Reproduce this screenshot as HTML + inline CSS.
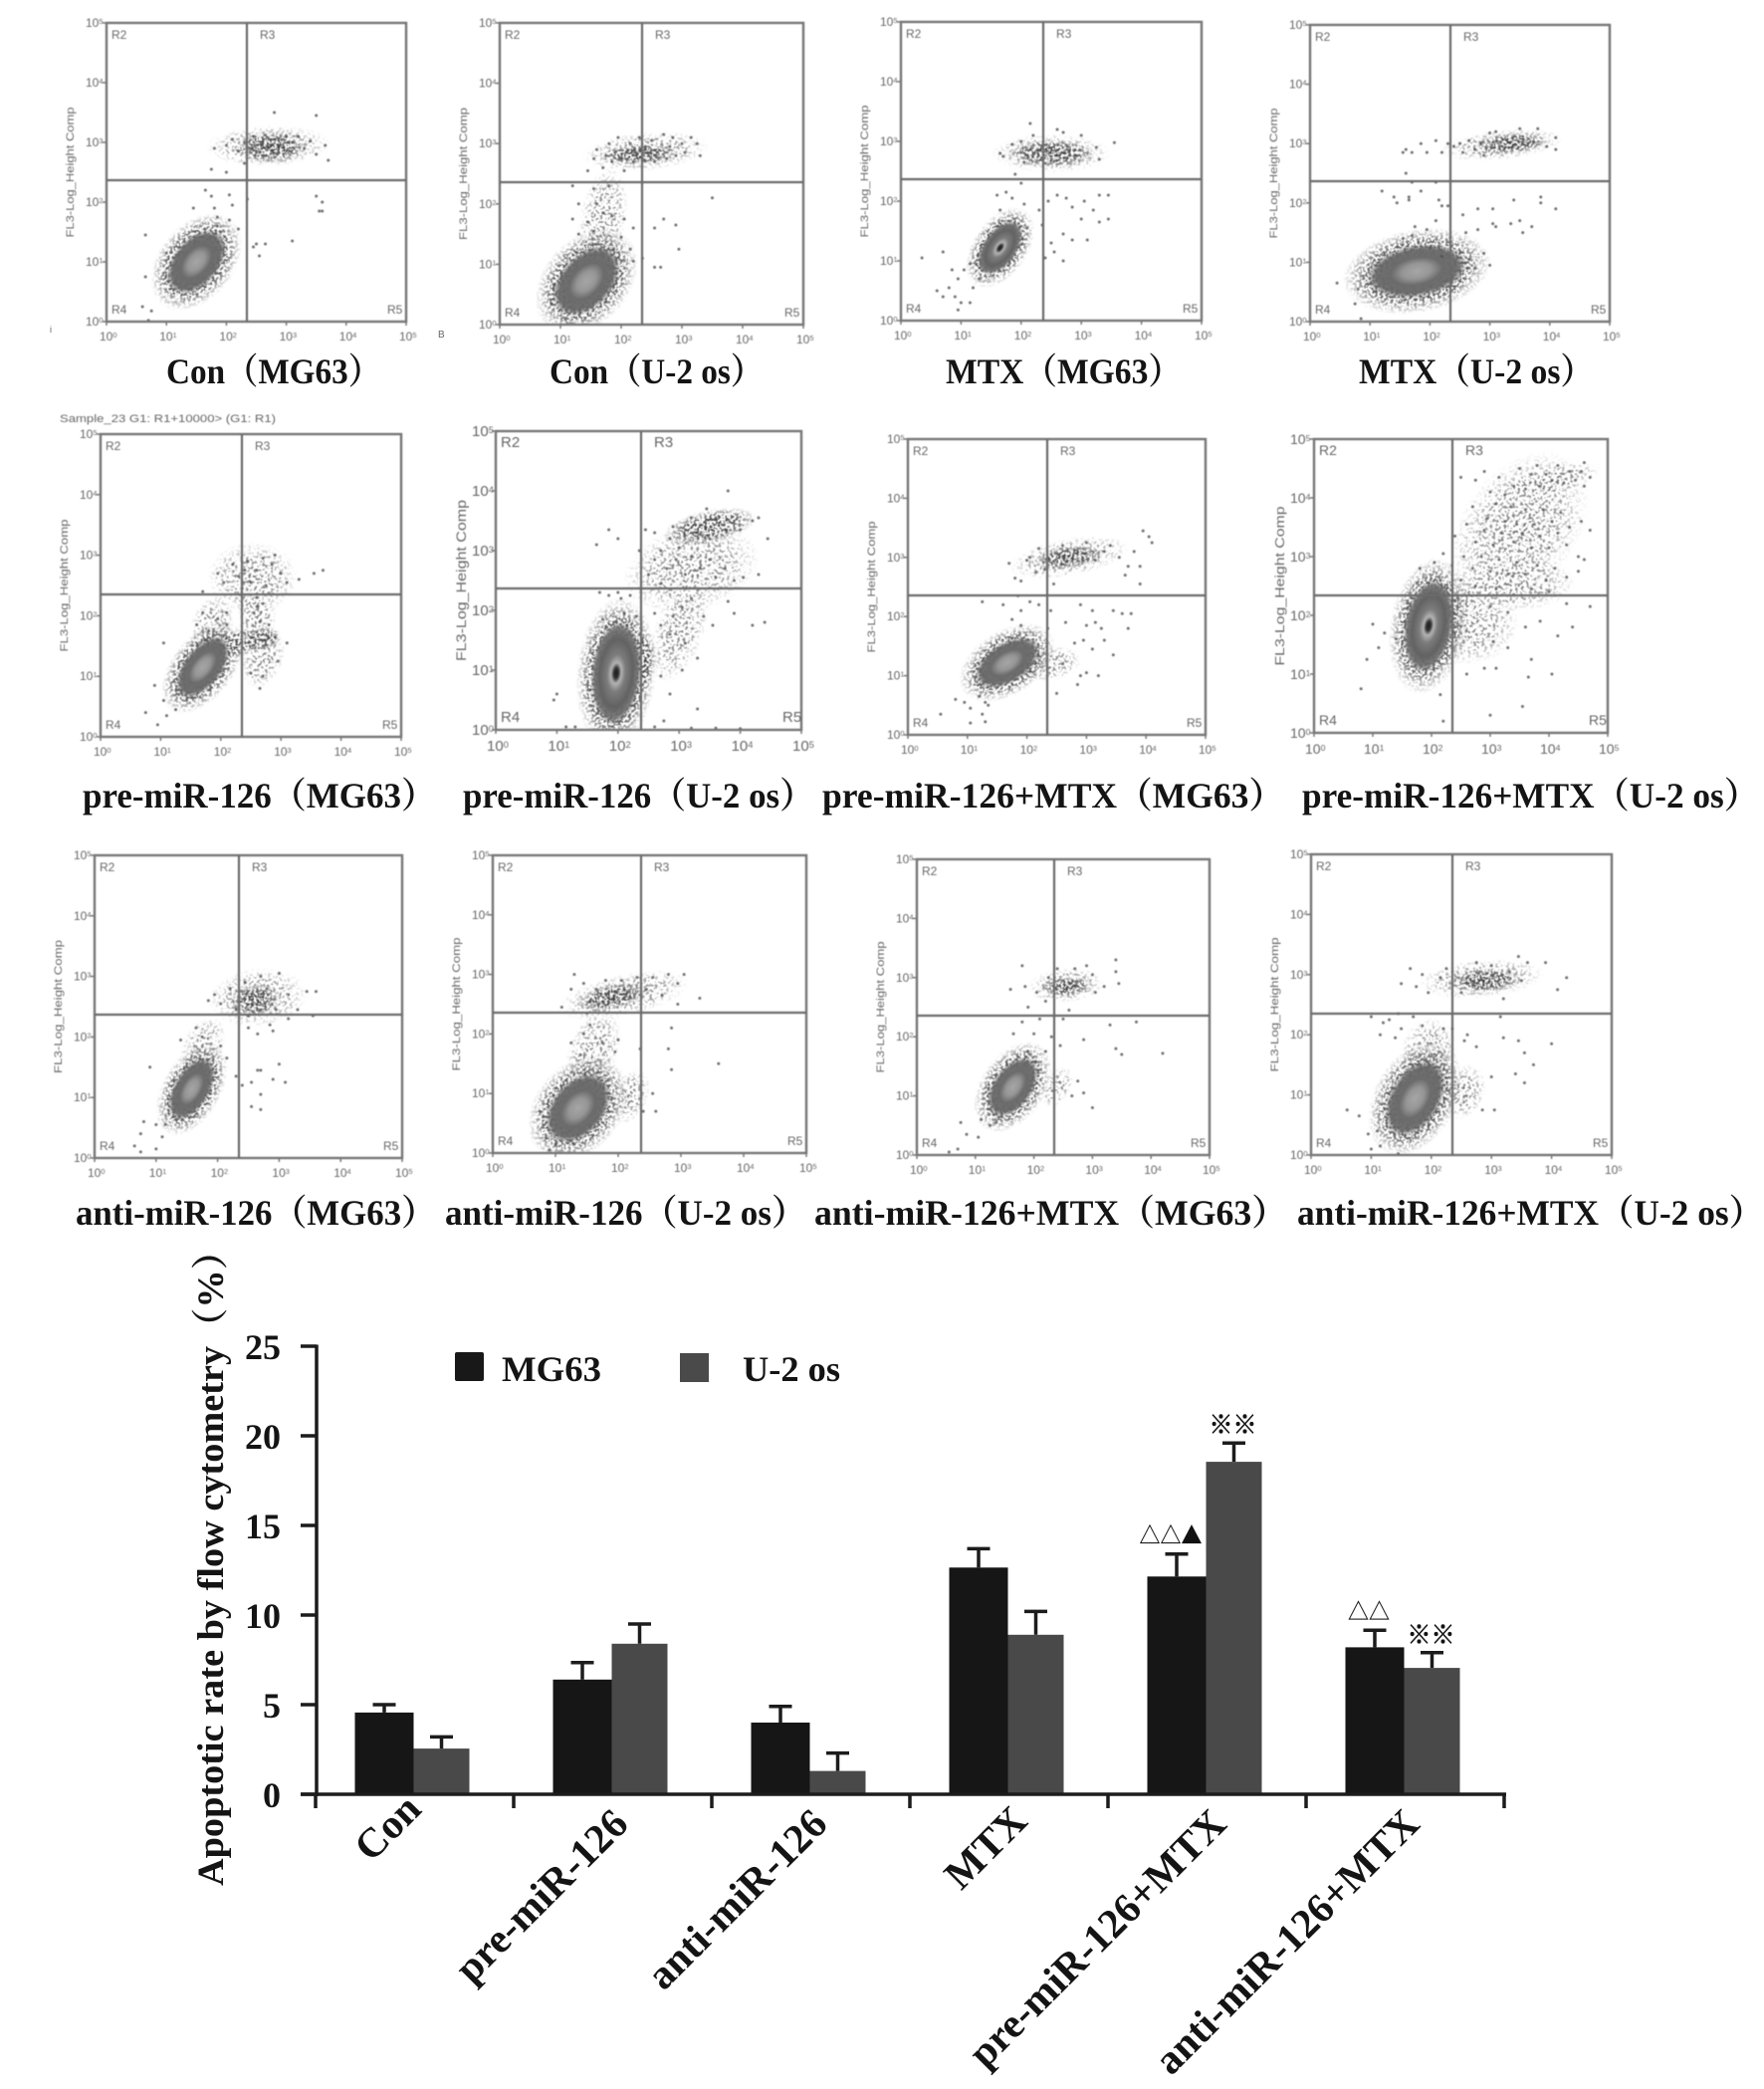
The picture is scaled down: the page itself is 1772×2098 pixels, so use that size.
<!DOCTYPE html>
<html lang="en">
<head>
<meta charset="utf-8">
<title>Apoptosis flow cytometry panels and bar chart</title>
<style>
html,body{margin:0;padding:0;background:#fff}
#figure{display:block;width:1772px;height:2098px;background:#fff}
.serif{font-family:"Liberation Serif","Noto Serif CJK SC",serif;font-weight:bold;fill:#141414}
.fc{font-family:"Liberation Sans",sans-serif;fill:#666}
</style>
</head>
<body>
<svg id="figure" xmlns="http://www.w3.org/2000/svg" width="1772" height="2098" viewBox="0 0 1772 2098">
  <defs id="defs">
    <filter id="soft" x="-5%" y="-5%" width="110%" height="110%"><feGaussianBlur stdDeviation="0.55"/></filter>
    <filter id="softer" x="-5%" y="-5%" width="110%" height="110%"><feGaussianBlur stdDeviation="0.35"/></filter>
    <filter id="speckle" x="-10%" y="-10%" width="120%" height="120%" color-interpolation-filters="sRGB">
      <feTurbulence type="fractalNoise" baseFrequency="0.38" numOctaves="2" seed="7" result="noise"/>
      <feColorMatrix in="noise" type="matrix" values="0 0 0 0 0  0 0 0 0 0  0 0 0 0 0  0 0 0 9 -4.25" result="mask"/>
      <feComposite in="SourceGraphic" in2="mask" operator="in"/>
    </filter>
    <filter id="speckle-sparse" x="-10%" y="-10%" width="120%" height="120%" color-interpolation-filters="sRGB">
      <feTurbulence type="fractalNoise" baseFrequency="0.36" numOctaves="2" seed="19" result="noise"/>
      <feColorMatrix in="noise" type="matrix" values="0 0 0 0 0  0 0 0 0 0  0 0 0 0 0  0 0 0 10 -5.35" result="mask"/>
      <feComposite in="SourceGraphic" in2="mask" operator="in"/>
    </filter>
    <radialGradient id="grad-light">
      <stop offset="0" stop-color="#a6a6a6"/><stop offset="0.28" stop-color="#969696"/>
      <stop offset="0.5" stop-color="#6c6c6c"/><stop offset="0.8" stop-color="#666" stop-opacity="0.92"/>
      <stop offset="1" stop-color="#777" stop-opacity="0"/>
    </radialGradient>
    <radialGradient id="grad-dark">
      <stop offset="0" stop-color="#1e1e1e"/><stop offset="0.1" stop-color="#333"/>
      <stop offset="0.2" stop-color="#b4b4b4"/><stop offset="0.36" stop-color="#7c7c7c"/>
      <stop offset="0.65" stop-color="#626262"/><stop offset="0.85" stop-color="#6e6e6e" stop-opacity="0.9"/>
      <stop offset="1" stop-color="#777" stop-opacity="0"/>
    </radialGradient>
    <radialGradient id="grad-halo">
      <stop offset="0" stop-color="#505050"/><stop offset="0.68" stop-color="#5c5c5c"/>
      <stop offset="1" stop-color="#808080" stop-opacity="0"/>
    </radialGradient>
    <radialGradient id="grad-haze">
      <stop offset="0" stop-color="#666" stop-opacity="0.95"/><stop offset="0.6" stop-color="#7a7a7a" stop-opacity="0.7"/>
      <stop offset="1" stop-color="#999" stop-opacity="0"/>
    </radialGradient>
    <radialGradient id="grad-dense">
      <stop offset="0" stop-color="#3c3c3c"/><stop offset="0.6" stop-color="#4e4e4e" stop-opacity="0.92"/>
      <stop offset="1" stop-color="#777" stop-opacity="0"/>
    </radialGradient>
  </defs>
  <g id="panels"></g>
  <g id="captions"></g>
  <g id="chart"></g>
  <text class="fc" x="60" y="424" font-size="11" textLength="217" lengthAdjust="spacingAndGlyphs" filter="url(#soft)">Sample_23 G1: R1+10000&gt; (G1: R1)</text>
  <text class="fc" x="50" y="334" font-size="9">i</text>
  <text class="fc" x="440" y="339" font-size="10">B</text>
</svg>
<script>
/* ---------- bar chart data ---------- */
const categories = ["Con","pre-miR-126","anti-miR-126","MTX","pre-miR-126+MTX","anti-miR-126+MTX"];
const mg63Values = [4.56,6.4,4.0,12.65,12.15,8.2];
const u2osValues = [2.55,8.4,1.3,8.9,18.55,7.05];
const mg63ErrorTops = [5.0,7.35,4.9,13.7,13.4,9.15];
const u2osErrorTops = [3.2,9.5,2.3,10.2,19.6,7.9];
const yTicks = [0,5,10,15,20,25];
const seriesNames = ["MG63","U-2 os"];
const significanceMarks = [
  {group:4, series:0, label:"△△▲"},
  {group:4, series:1, label:"※※"},
  {group:5, series:0, label:"△△"},
  {group:5, series:1, label:"※※"}
];

/* ---------- flow cytometry data: log10 coordinates ---------- */
/* cluster = [log x, log y, major radius, minor radius, screen angle, kind] */
const clustersConMG63 = [[1.5,1.0,0.88,0.55,-50,"light"],[2.7,2.94,1.0,0.3,-2,"haze"],[2.75,2.92,0.55,0.2,0,"dense"]];
const dotsConMG63 = [[1.8,2.9],[1.75,2.55],[2,2.95],[2.1,3.05],[2.2,2.85],[2.3,3],[2.4,2.9],[2.45,3.1],[2.5,2.85],[2.6,3],[2.65,3.12],[2.7,2.9],[2.8,3.05],[2.85,2.8],[2.9,2.95],[3,3.1],[3.05,2.85],[3.1,3],[3.2,3.1],[3.3,2.9],[3.4,3.02],[3.5,2.8],[3.65,2.95],[3.7,2.7],[2,2.5],[2.3,2.65],[1.65,2.2],[1.75,2.1],[1.8,1.9],[2.1,1.95],[2.05,2.12],[2.35,2.05],[1.45,1.9],[1.85,1.75],[2.5,1.3],[2.55,1.1],[2.45,1.25],[2.65,1.3],[3.1,1.35],[3.5,2.1],[3.6,2],[3.55,1.85],[3.6,1.85],[3.5,3.45],[2.8,3.5],[0.65,1.45],[0.65,0.75],[1,1.15],[0.6,0.25],[0.75,0.18],[0.7,0.02],[2.2,1.55],[2.05,1.7],[1.85,1.6]];
const clustersConU2 = [[1.43,0.72,0.95,0.62,-48,"light"],[1.7,1.75,0.85,0.34,-80,"haze"],[2.4,2.87,1.0,0.28,-5,"haze"],[2.3,2.82,0.6,0.12,-3,"dense"]];
const dotsConU2 = [[1.45,2.55],[1.55,2.75],[1.6,2.9],[1.7,2.6],[1.75,2.8],[1.8,3],[1.85,2.7],[1.9,2.85],[1.95,3.1],[2,2.75],[2.05,2.55],[2.1,2.85],[2.15,3],[2.2,2.7],[2.25,2.85],[2.3,3.1],[2.35,2.75],[2.4,2.95],[2.45,2.8],[2.5,3.05],[2.55,2.7],[2.6,2.85],[2.7,3.15],[2.75,2.75],[2.8,2.95],[2.85,3.1],[2.9,2.8],[3,3],[3.05,2.85],[3.15,3.1],[3.25,3],[3.3,2.8],[1.2,2.3],[1.55,2.25],[1.8,2.3],[1.3,2],[1.45,1.7],[1.6,2],[1.7,1.85],[1.85,1.8],[2.05,1.75],[2.2,1.6],[1.2,1.75],[1.3,1.5],[1.55,1.55],[2,1.45],[2.15,1.25],[2.2,1.05],[2.35,1.1],[2.7,1.75],[2.55,1.6],[2.9,1.65],[2.95,1.25],[3.5,2.1],[2.65,0.95],[2.55,0.95],[0.9,0.65],[0.85,0.35],[1.1,0.1]];
const clustersMtxMG63 = [[1.65,1.22,0.72,0.4,-55,"dark"],[2.5,2.8,0.95,0.28,0,"haze"],[2.5,2.8,0.68,0.17,0,"dense"]];
const dotsMtxMG63 = [[1.65,2.8],[1.7,2.75],[1.85,2.95],[2.0,3.0],[2.05,2.65],[2.2,3.1],[2.6,3.2],[2.7,3.15],[3.0,3.1],[3.25,2.9],[3.3,2.7],[3.55,2.98],[2.15,3.3],[1.9,2.45],[2.0,2.3],[1.75,2.15],[1.6,2.1],[1.85,2.05],[2.05,1.95],[1.65,1.85],[2.3,1.85],[2.45,2.0],[2.6,2.1],[2.75,2.05],[2.85,1.9],[3,1.7],[3.05,2],[3.2,1.85],[3.3,2.1],[3.45,2.1],[3.45,1.7],[3.3,1.65],[2.5,1.3],[2.7,1.45],[2.85,1.35],[2.4,1.05],[2.55,1.15],[3.1,1.35],[2.7,1.0],[2.35,1.6],[2.1,1.55],[0.35,1.05],[0.7,1.15],[0.85,0.85],[0.95,0.7],[1.05,0.85],[1.15,0.95],[1.25,0.95],[0.7,0.4],[0.8,0.55],[0.9,0.4],[1,0.3],[1.15,0.3],[1.2,0.55],[0.95,0.18],[1.3,0.7],[0.6,0.5]];
const clustersMtxU2 = [[1.78,0.85,1.2,0.62,-10,"light"],[3.2,2.98,0.98,0.22,-6,"haze"],[3.35,3.0,0.6,0.13,-5,"dense"]];
const dotsMtxU2 = [[1.55,2.85],[1.6,2.9],[1.7,2.85],[1.85,3],[1.95,2.85],[2.1,3.05],[2.2,2.85],[2.3,3],[2.4,2.95],[2.5,3],[2.55,2.85],[2.65,3.05],[2.75,2.9],[2.85,3],[2.9,2.8],[3,3.18],[3.1,3.2],[3.5,3.25],[3.95,2.95],[4.1,2.9],[4.1,3.1],[3.8,3.25],[1.6,2.5],[1.7,2.35],[1.65,2.1],[1.65,2.05],[1.4,2.1],[1.45,2],[1.2,2.2],[1.85,2.2],[2.1,2.35],[2.15,2.05],[2.2,1.95],[2.3,1.95],[2.1,1.7],[1.75,1.6],[1.55,1.4],[1.95,1.55],[1.7,1.45],[2,1.25],[2.2,1.1],[2.6,1.5],[2.8,1.55],[2.55,1.8],[2.8,1.9],[3.05,1.9],[3.05,1.65],[3.1,1.6],[3.4,2.05],[3.35,1.65],[3.5,1.7],[3.55,1.5],[3.7,1.6],[4.1,1.9],[3.85,2.1],[3.85,2.0],[2.65,1.05],[2.9,1.15],[3,0.95],[2.75,0.9],[0.45,0.65],[0.8,0.55],[0.85,0.05],[0.75,0.3]];
const clustersPreMG63 = [[1.7,1.15,0.85,0.45,-52,"light"],[2.7,1.62,0.28,0.14,-12,"dense"],[2.3,1.55,0.45,0.16,-15,"dense"],[2.53,2.63,0.72,0.52,0,"haze"],[2.6,2.0,0.55,0.28,90,"haze"],[1.85,1.85,0.5,0.3,-70,"haze"],[2.7,1.3,0.5,0.3,-70,"haze"]];
const dotsPreMG63 = [[1.7,2.4],[1.95,2.7],[2.05,2.55],[2.2,2.85],[2.3,2.65],[2.35,2.45],[2.4,2.75],[2.45,2.9],[2.5,2.55],[2.6,2.75],[2.7,2.95],[2.75,2.5],[2.85,2.85],[2.9,3.0],[3.0,2.7],[3.1,2.55],[3.3,2.6],[3.7,2.75],[3.55,2.7],[2.6,2.3],[2.7,2.2],[2.55,2.05],[2.65,1.9],[2.8,1.85],[2.6,2.15],[1.7,2.05],[1.6,1.85],[1.8,1.75],[1.95,1.95],[2.1,1.85],[1.75,1.6],[2.1,2.05],[2.9,1.65],[2.95,1.25],[2.7,1.0],[2.65,0.8],[2.5,1.05],[3.1,1.55],[1.05,1.55],[0.9,0.85],[1.05,0.6],[0.75,0.4],[1.1,0.35],[1.25,0.45],[1.3,0.7],[0.95,0.2]];
const clustersPreU2 = [[1.97,0.95,1.2,0.58,-85,"dark"],[2.35,1.15,0.5,0.2,-85,"dense"],[3.5,3.4,0.72,0.2,-12,"dense"],[3.2,2.7,1.1,0.62,-15,"haze"],[3.0,1.65,0.85,0.36,-70,"haze"]];
const dotsPreU2 = [[1.65,3.1],[1.85,3.35],[2.0,3.2],[2.45,3.35],[2.35,3.0],[2.6,3.3],[2.7,3.0],[2.85,3.2],[2.9,3.4],[3.0,3.05],[3.1,3.35],[3.2,3.55],[3.3,3.3],[3.45,3.7],[3.5,3.2],[3.6,3.55],[3.75,3.35],[3.9,3.45],[4.0,3.35],[4.2,3.5],[4.3,3.55],[4.45,3.2],[3.8,4.0],[2.5,2.6],[2.6,2.85],[2.7,2.45],[2.8,2.7],[2.95,2.85],[3.1,2.6],[3.2,2.9],[3.35,2.7],[3.5,2.85],[3.6,2.55],[3.75,2.7],[3.9,2.5],[4.05,2.55],[4.3,2.6],[1.7,2.3],[1.85,2.25],[2,2.3],[2.05,2.2],[2.2,2.25],[2.1,1.95],[2.15,1.75],[2.3,1.9],[1.75,1.85],[2.6,1.95],[2.7,1.75],[2.85,1.6],[2.9,1.9],[3.05,2.05],[3.2,2.2],[3.4,1.9],[3.55,1.75],[3.8,2.15],[3.9,1.95],[4.4,1.8],[4.2,1.75],[3.1,1.45],[3.3,1.2],[3.05,1.0],[2.7,0.9],[2.85,0.6],[3.3,0.35],[2.75,0.15],[0.95,0.5],[1,0.6],[1.15,0.05],[1.3,0.05],[2.6,0.05],[3.2,0.03],[3.6,0.03],[4,0.02]];
const clustersPreMtxMG63 = [[1.67,1.22,0.85,0.48,-32,"light"],[2.7,3.0,0.98,0.28,-10,"haze"],[2.7,3.0,0.55,0.14,-8,"dense"],[2.4,1.2,0.5,0.25,-10,"haze"]];
const dotsPreMtxMG63 = [[1.7,2.9],[1.8,2.65],[1.9,2.6],[2,2.95],[2.05,3],[2.15,2.75],[2.2,3.15],[2.3,2.8],[2.45,2.55],[2.6,3.2],[3,3.25],[3.15,2.95],[3.3,3.1],[3.4,3.2],[3.55,3],[3.65,2.7],[3.7,2.85],[3.8,3.1],[3.9,2.85],[3.95,3.45],[4.1,3.25],[4.05,3.35],[3.9,2.55],[1.85,2.35],[1.25,2.25],[1.6,2.2],[1.9,2.1],[2.05,2.25],[2.2,2.2],[1.75,1.95],[1.9,1.85],[2.4,2.1],[2.35,1.8],[2.65,1.9],[2.9,2.2],[3.1,2.1],[3.15,1.9],[3,1.85],[3.25,1.8],[3.45,2.1],[3.6,2.05],[3.7,1.8],[3.75,2.05],[2.8,1.55],[2.95,1.6],[3.1,1.45],[3.3,1.6],[3.45,1.35],[2.6,1.2],[2.9,1.0],[3.0,1.05],[3.2,1],[2.85,0.85],[2.5,0.7],[0.8,0.6],[0.95,0.55],[1.05,0.45],[1.2,0.65],[1.3,0.55],[1.25,0.35],[0.55,0.35],[1.05,0.2],[1.3,0.22],[1.35,0.5]];
const clustersPreMtxU2 = [[1.95,1.82,1.12,0.58,-80,"dark"],[2.6,1.85,0.85,0.6,0,"haze"],[2.45,2.2,0.5,0.35,0,"haze"],[3.5,3.5,1.4,0.85,-52,"haze"],[4.0,4.28,0.85,0.22,-14,"haze"],[3.4,2.55,1.0,0.42,0,"haze"]];
const dotsPreMtxU2 = [[2.5,4.35],[2.75,4.3],[2.9,4.45],[3.0,4.1],[3.15,4.35],[3.25,4.05],[3.4,4.2],[3.5,4.5],[3.6,4.15],[3.7,4.4],[3.8,4.55],[3.85,4.2],[3.95,4.4],[4.05,4.3],[4.15,4.55],[4.25,4.25],[4.35,4.45],[4.45,4.3],[4.55,4.45],[4.6,4.6],[4.6,4.2],[4.7,4.35],[2.7,3.85],[2.95,3.65],[3.1,3.9],[3.25,3.6],[3.35,3.85],[3.45,3.55],[3.6,3.8],[3.75,3.55],[3.9,3.8],[4.05,3.6],[4.2,3.75],[4.35,3.5],[4.55,3.6],[4.7,3.45],[2.4,3.35],[2.6,3.55],[2.75,3.25],[2.9,3.45],[3.05,3.2],[3.2,3.4],[3.4,3.25],[3.55,3.4],[3.7,3.15],[3.85,3.35],[4.0,3.15],[4.15,3.4],[4.3,3.2],[4.5,3.0],[4.6,2.95],[2.2,3.05],[2.35,2.85],[2.55,3.0],[2.7,2.8],[2.85,3.0],[3.0,2.75],[3.15,2.95],[3.3,2.7],[3.45,2.9],[3.6,2.7],[3.8,2.85],[3.95,2.6],[4.1,2.8],[4.3,2.65],[4.5,2.75],[1.8,2.8],[2.05,2.9],[2.15,2.6],[1.95,2.55],[1.75,2.55],[2.5,2.6],[2.75,2.5],[3.1,2.45],[3.4,2.35],[3.7,2.45],[4.0,2.4],[4.3,2.2],[4.7,2.15],[3.0,2.15],[3.3,2.05],[3.6,1.8],[3.85,1.9],[4.15,1.65],[4.4,1.8],[3.05,1.55],[3.3,1.45],[3.7,1.25],[2.6,1.0],[2.9,1.1],[3.1,1.1],[3.65,0.95],[4.05,1.0],[1.0,1.85],[0.9,1.25],[1.2,1.7],[1.4,1.6],[1.1,1.45],[0.8,0.75],[2.15,0.65],[2.2,0.2],[3.0,0.3],[3.55,0.45]];
const clustersAntiMG63 = [[1.58,1.14,0.8,0.42,-60,"light"],[2.66,2.65,0.78,0.42,-5,"haze"],[2.6,2.6,0.38,0.2,-5,"dense"],[1.75,1.85,0.5,0.28,-60,"haze"]];
const dotsAntiMG63 = [[1.85,2.6],[1.95,2.7],[2.05,2.55],[2.2,2.8],[2.3,2.45],[2.45,2.9],[2.5,2.35],[2.7,3],[2.8,2.8],[2.95,2.45],[3,3.05],[3.15,2.7],[3.3,2.45],[3.45,2.75],[3.6,2.75],[2.5,2.15],[2.65,2.05],[2.85,2.2],[2.9,2.1],[3.15,2.3],[3.55,2.35],[1.65,2.15],[1.4,1.95],[1.75,2.0],[2.05,1.85],[2.15,1.65],[2.3,1.35],[2.4,1.2],[2.55,1.25],[2.65,1.45],[2.7,1.45],[2.9,1.3],[3.1,1.25],[3.0,1.55],[2.7,1.05],[2.55,0.85],[2.7,0.8],[0.9,1.5],[0.8,0.6],[0.75,0.4],[1,0.55],[1.1,0.35],[1.15,0.55],[0.65,0.2],[0.75,0.1],[1.0,0.15]];
const clustersAntiU2 = [[1.36,0.75,0.92,0.62,-50,"light"],[2.09,2.65,1.05,0.3,-12,"haze"],[1.9,2.62,0.55,0.15,-12,"dense"],[1.6,1.7,0.7,0.36,-70,"haze"],[2.2,0.95,0.45,0.25,-70,"haze"]];
const dotsAntiU2 = [[1.1,2.45],[1.25,2.75],[1.3,3],[1.45,2.85],[1.55,2.55],[1.65,2.75],[1.8,2.9],[1.95,2.7],[2.05,2.9],[2.2,2.6],[2.3,2.95],[2.45,2.75],[2.55,2.95],[2.7,2.65],[2.8,3.0],[2.95,2.85],[3.05,3.0],[2.95,2.5],[3.3,2.6],[1.5,2.35],[1.55,2.15],[1.45,2.0],[1.25,1.85],[1.75,1.85],[2,1.9],[1.4,1.65],[1.95,1.7],[2.35,1.75],[2.85,2.1],[2.8,1.75],[2.85,1.4],[3.6,1.5],[2.55,1.0],[2.4,0.7],[2.6,0.7],[0.75,0.7],[0.85,0.25],[1,0.15],[1.3,0.15],[0.9,0.05]];
const clustersAntiMtxMG63 = [[1.64,1.15,0.82,0.48,-55,"light"],[2.55,2.87,0.62,0.26,-5,"haze"],[2.55,2.85,0.42,0.12,-3,"dense"],[2.4,1.15,0.35,0.2,-60,"haze"]];
const dotsAntiMtxMG63 = [[1.6,2.8],[1.9,2.5],[1.85,2.85],[2.05,2.75],[2.2,2.6],[2.25,3.0],[2.4,3.15],[2.7,3.15],[2.9,3.2],[3,3.05],[3.05,2.75],[3.2,2.85],[3.45,2.9],[3.4,3.3],[3.4,3.1],[1.8,3.2],[2.6,2.45],[2.5,2.3],[2.1,2.3],[1.8,2.25],[2.0,2.05],[1.65,2.05],[2.3,2.0],[2.45,1.85],[2.85,1.95],[3.4,1.8],[3.3,2.2],[3.75,2.25],[4.2,1.72],[3.5,1.7],[2.2,1.75],[1.9,1.75],[2.85,1.05],[3.0,0.8],[2.65,1.0],[2.75,1.25],[0.75,0.55],[0.85,0.35],[1.05,0.3],[1.25,0.5],[1.35,0.55],[0.7,0.1],[0.55,0.05],[1.1,0.6]];
const clustersAntiMtxU2 = [[1.73,0.94,0.98,0.6,-60,"light"],[2.83,2.93,1.0,0.28,-5,"haze"],[2.9,2.9,0.55,0.15,-3,"dense"],[1.95,1.65,0.62,0.42,-80,"haze"],[2.55,1.05,0.45,0.3,-70,"haze"]];
const dotsAntiMtxU2 = [[1.5,2.85],[1.75,2.8],[1.85,3],[1.65,3.1],[1.95,2.7],[2.15,2.95],[2.25,3.1],[2.5,2.7],[2.75,3.2],[3.0,3.15],[3.2,2.6],[3.3,3.05],[3.5,2.9],[3.6,3.2],[3.9,3.2],[3.45,3.3],[4.25,2.95],[4.1,2.75],[1.0,2.3],[1.3,2.25],[1.45,2.35],[1.7,2.3],[1.2,2.2],[1.15,2.0],[1.5,2.1],[1.85,2.15],[1.4,1.95],[2.2,2.1],[2.35,2.1],[2.6,2.0],[3.15,2.3],[2.55,1.9],[2.75,1.8],[3.2,1.95],[3.45,1.9],[3.55,1.7],[4.0,1.85],[3.7,1.5],[3.55,1.2],[3.4,1.35],[3.0,1.3],[3.05,0.75],[2.85,0.75],[0.6,0.75],[0.8,0.65],[0.95,0.35],[1.1,0.4],[1,0.1],[1.15,0.15],[1.45,0.02]];

/* ---------- panel list ---------- */
const panelLabels = ["Con（MG63）","Con（U-2 os）","MTX（MG63）","MTX（U-2 os）","pre-miR-126（MG63）","pre-miR-126（U-2 os）","pre-miR-126+MTX（MG63）","pre-miR-126+MTX（U-2 os）","anti-miR-126（MG63）","anti-miR-126（U-2 os）","anti-miR-126+MTX（MG63）","anti-miR-126+MTX（U-2 os）"];
const panelClusters = [clustersConMG63,clustersConU2,clustersMtxMG63,clustersMtxU2,clustersPreMG63,clustersPreU2,clustersPreMtxMG63,clustersPreMtxU2,clustersAntiMG63,clustersAntiU2,clustersAntiMtxMG63,clustersAntiMtxU2];
const panelDots = [dotsConMG63,dotsConU2,dotsMtxMG63,dotsMtxU2,dotsPreMG63,dotsPreU2,dotsPreMtxMG63,dotsPreMtxU2,dotsAntiMG63,dotsAntiU2,dotsAntiMtxMG63,dotsAntiMtxU2];
const logTicks = [0,1,2,3,4,5];
const quadrantNames = ["R2","R3","R4","R5"];
const yAxisLabel = "FL3-Log_Height Comp";

/* ---------- layout only (pixels, not data) ---------- */
const panelFrames = [
  {l:107,r:408,t:23,b:323,gx:248,gy:181,tl:131,fs:11},
  {l:502,r:807,t:23,b:326,gx:645,gy:183,tl:133,fs:11},
  {l:905,r:1207,t:22,b:322,gx:1048,gy:180,tl:133,fs:11},
  {l:1316,r:1617,t:25,b:323,gx:1457,gy:182,tl:131,fs:11},
  {l:101,r:403,t:436,b:740,gx:243,gy:597,tl:133,fs:11},
  {l:498,r:805,t:433,b:733,gx:644,gy:591,tl:162,fs:14},
  {l:912,r:1211,t:441,b:738,gx:1052,gy:598,tl:132,fs:11},
  {l:1320,r:1615,t:441,b:736,gx:1459,gy:598,tl:160,fs:13},
  {l:95,r:404,t:859,b:1163,gx:240,gy:1019,tl:134,fs:11},
  {l:495,r:810,t:859,b:1158,gx:644,gy:1017,tl:134,fs:11},
  {l:921,r:1215,t:863,b:1160,gx:1059,gy:1020,tl:132,fs:11},
  {l:1317,r:1619,t:858,b:1160,gx:1459,gy:1018,tl:135,fs:11}
];
const captionFrames = [
  {x:167,e:383,y:385},{x:552,e:767,y:385},{x:950,e:1187,y:385},{x:1365,e:1601,y:385},
  {x:83,e:438,y:811},{x:465,e:818,y:811},{x:826,e:1290,y:811},{x:1308,e:1767,y:811},
  {x:76,e:438,y:1230},{x:447,e:810,y:1230},{x:818,e:1293,y:1230},{x:1303,e:1772,y:1230}
];
const xLabelEnds = [[425,1819],[633,1834],[833,1834],[1034,1831],[1234,1834],[1428,1834]];

const SVGNS = "http://www.w3.org/2000/svg";
function make(tag, attrs, parent, text){
  const n = document.createElementNS(SVGNS, tag);
  for (const k in attrs) n.setAttribute(k, attrs[k]);
  if (text !== undefined) n.textContent = text;
  if (parent) parent.appendChild(n);
  return n;
}
function slug(s){ return s.replace(/[（）+]/g," ").trim().replace(/\s+/g,"-").toLowerCase(); }

/* ---------- draw flow cytometry panels ---------- */
const panelsRoot = document.getElementById("panels");
const defsRoot = document.getElementById("defs");
panelLabels.forEach(function(label, i){
  const f = panelFrames[i];
  const px = function(v){ return f.l + (f.r - f.l) * v / 5; };
  const py = function(v){ return f.b - (f.b - f.t) * v / 5; };
  const unitX = (f.r - f.l) / 5, unitY = (f.b - f.t) / 5, unit = (unitX + unitY) / 2;

  const clip = make("clipPath", {id:"frame-clip-"+i}, defsRoot);
  make("rect", {x:f.l, y:f.t, width:f.r-f.l, height:f.b-f.t}, clip);

  const g = make("g", {filter:"url(#soft)"}, panelsRoot);
  
  

  const sparse = make("g", {filter:"url(#speckle-sparse)", "clip-path":"url(#frame-clip-"+i+")"}, g);
  
  
  const speckled = make("g", {filter:"url(#speckle)", "clip-path":"url(#frame-clip-"+i+")"}, g);
  
  
  const solid = make("g", {"clip-path":"url(#frame-clip-"+i+")"}, g);
  
  

  panelClusters[i].forEach(function(c){
    const cx = px(c[0]), cy = py(c[1]), kind = c[5];
    const turn = "rotate("+c[4]+" "+cx+" "+cy+")";
    if (kind === "light" || kind === "dark"){
      const halo = make("ellipse", {cx:cx, cy:cy, rx:c[2]*unit*1.05, ry:c[3]*unit*1.14, fill:"url(#grad-halo)", transform:turn}, speckled);
      
      
      const core = make("ellipse", {cx:cx, cy:cy, rx:c[2]*unit*0.72, ry:c[3]*unit*0.72, fill:"url(#grad-"+kind+")", transform:turn}, solid);
      
      
    } else if (kind === "dense"){
      const e = make("ellipse", {cx:cx, cy:cy, rx:c[2]*unit*1.1, ry:c[3]*unit*1.4, fill:"url(#grad-dense)", transform:turn}, speckled);
      
      
    } else {
      const e = make("ellipse", {cx:cx, cy:cy, rx:c[2]*unit*1.05, ry:c[3]*unit*1.15, fill:"url(#grad-haze)", transform:turn}, sparse);
      
      
    }
  });
  panelDots[i].forEach(function(d){
    const dot = make("circle", {cx:px(d[0]), cy:py(d[1]), r:1.5, fill:"#4a4a4a", "fill-opacity":0.78}, g);
    
    
  });

  const frame = make("rect", {x:f.l, y:f.t, width:f.r-f.l, height:f.b-f.t, fill:"none", stroke:"#777", "stroke-width":2.4}, g);
  
  
  const gateV = make("line", {x1:f.gx, x2:f.gx, y1:f.t, y2:f.b, stroke:"#6a6a6a", "stroke-width":2.2}, g);
  
  
  const gateH = make("line", {x1:f.l, x2:f.r, y1:f.gy, y2:f.gy, stroke:"#6a6a6a", "stroke-width":2.2}, g);
  
  

  const big = f.fs > 12;
  logTicks.forEach(function(t){
    const tx = make("line", {x1:px(t), x2:px(t), y1:f.b, y2:f.b+4, stroke:"#777", "stroke-width":1.5}, g);
    
    
    const ty = make("line", {x1:f.l-4, x2:f.l, y1:py(t), y2:py(t), stroke:"#777", "stroke-width":1.5}, g);
    
    
    const xl = make("text", {class:"fc", x:px(t)-(big?9:7), y:f.b+(big?21:19), "font-size":f.fs+1}, g, "10");
    make("tspan", {dy:-3, "font-size":(f.fs+1)*0.62}, xl, String(t));
    
    
    const yl = make("text", {class:"fc", x:f.l-(big?24:21), y:py(t)+(big?5:4), "font-size":f.fs+1}, g, "10");
    make("tspan", {dy:-3, "font-size":(f.fs+1)*0.62}, yl, String(t));
    
    
  });

  const tx0 = f.l - (big?30:33), tyMid = f.t + (f.b - f.t) * 0.5;
  const yTitle = make("text", {class:"fc", x:0, y:0, "font-size":f.fs, "text-anchor":"middle", textLength:f.tl, lengthAdjust:"spacingAndGlyphs", transform:"translate("+tx0+" "+tyMid+") rotate(-90)"}, g, yAxisLabel);
  
  

  quadrantNames.forEach(function(q){
    const x = q === "R2" || q === "R4" ? f.l + 5 : q === "R3" ? f.gx + 13 : f.r - 19;
    const y = q === "R2" || q === "R3" ? f.t + 16 : f.b - 8;
    const t = make("text", {class:"fc", x:x, y:y, "font-size":f.fs + 1}, g, q);
    
    
  });

  const cf = captionFrames[i];
  const cap = make("text", {class:"serif", x:cf.x, y:cf.y, "font-size":36, textLength:cf.e-cf.x, lengthAdjust:"spacingAndGlyphs"}, document.getElementById("captions"), label);
  
  
});

/* ---------- draw bar chart ---------- */
const chart = document.getElementById("chart");
const axisX0 = 317, bandStep = 199, axisY0 = 1802, unitPx = 18;
const barOffset = 39.5, mgWidth = 59, uWidth = 56;
function xBand(i){ return axisX0 + bandStep * i; }
function yValue(v){ return axisY0 - unitPx * v; }

const chartSoft = make("g", {filter:"url(#softer)"}, chart);



categories.forEach(function(cat, i){
  const x0 = xBand(i) + barOffset;
  const bars = [
    {x:x0, w:mgWidth, v:mg63Values[i], e:mg63ErrorTops[i], c:"#181818", n:"mg63"},
    {x:x0+mgWidth, w:uWidth, v:u2osValues[i], e:u2osErrorTops[i], c:"#4a4a4a", n:"u2os"}
  ];
  bars.forEach(function(b){
    const cx = b.x + b.w / 2;
    const stem = make("line", {x1:cx, x2:cx, y1:yValue(b.v), y2:yValue(b.e), stroke:"#1a1a1a", "stroke-width":3.5}, chartSoft);
    
    
    const capLine = make("line", {x1:cx-11.5, x2:cx+11.5, y1:yValue(b.e), y2:yValue(b.e), stroke:"#1a1a1a", "stroke-width":3.5}, chartSoft);
    
    
    const r = make("rect", {x:b.x, y:yValue(b.v), width:b.w, height:axisY0-yValue(b.v), fill:b.c}, chartSoft);
    
    
  });
  const end = xLabelEnds[i];
  const lab = make("text", {class:"serif", x:0, y:0, "font-size":41.5, "text-anchor":"end", transform:"translate("+end[0]+" "+end[1]+") rotate(-45)"}, chart, cat);
  
  
});

const yAxisLine = make("line", {x1:318, x2:318, y1:yValue(yTicks[yTicks.length-1])-1.5, y2:axisY0+2, stroke:"#1a1a1a", "stroke-width":3.5}, chartSoft);


const xAxisLine = make("line", {x1:302, x2:xBand(categories.length)+2, y1:axisY0, y2:axisY0, stroke:"#1a1a1a", "stroke-width":3.5}, chartSoft);



yTicks.forEach(function(t){
  const tick = make("line", {x1:302, x2:318, y1:yValue(t), y2:yValue(t), stroke:"#1a1a1a", "stroke-width":3.5}, chartSoft);
  
  
  const lab = make("text", {class:"serif", x:282, y:yValue(t)+13, "font-size":36, "text-anchor":"end"}, chart, String(t));
  
  
});
for (let i = 0; i <= categories.length; i++){
  const tick = make("line", {x1:xBand(i), x2:xBand(i), y1:axisY0, y2:axisY0+14, stroke:"#1a1a1a", "stroke-width":3.5}, chartSoft);
  
  
}

const yTitleMain = make("text", {class:"serif", x:0, y:0, "font-size":37, textLength:657, lengthAdjust:"spacingAndGlyphs", transform:"translate(224 1894) rotate(-90)"}, chart, "Apoptotic rate by flow cytometry（%）");



/* legend */
const swatchMg = make("rect", {x:457, y:1358, width:29, height:29, rx:2, fill:"#181818"}, chart);


const textMg = make("text", {class:"serif", x:504, y:1387, "font-size":36, textLength:100, lengthAdjust:"spacingAndGlyphs"}, chart, seriesNames[0]);


const swatchU = make("rect", {x:683, y:1359, width:29, height:29, fill:"#4a4a4a"}, chart);


const textU = make("text", {class:"serif", x:746, y:1387, "font-size":36, textLength:98, lengthAdjust:"spacingAndGlyphs"}, chart, seriesNames[1]);



/* significance markers above error bars */
significanceMarks.forEach(function(m){
  const x0 = xBand(m.group) + barOffset;
  const cx = m.series === 0 ? x0 + mgWidth / 2 - 6 : x0 + mgWidth + uWidth / 2 - 1;
  const top = m.series === 0 ? mg63ErrorTops[m.group] : u2osErrorTops[m.group];
  const isRef = m.label.charAt(0) === "※";
  const t = make("text", {x:cx, y:yValue(top)-(isRef?9:11), "text-anchor":"middle", "font-size":isRef?26:23, fill:"#111", stroke:"#111", "stroke-width":isRef?0.5:0.2, "font-family":'"Noto Sans CJK SC","DejaVu Sans",sans-serif', textLength:m.label.length*(isRef?24:21), lengthAdjust:"spacingAndGlyphs"}, chart, m.label);
  
  
});
</script>
</body>
</html>
